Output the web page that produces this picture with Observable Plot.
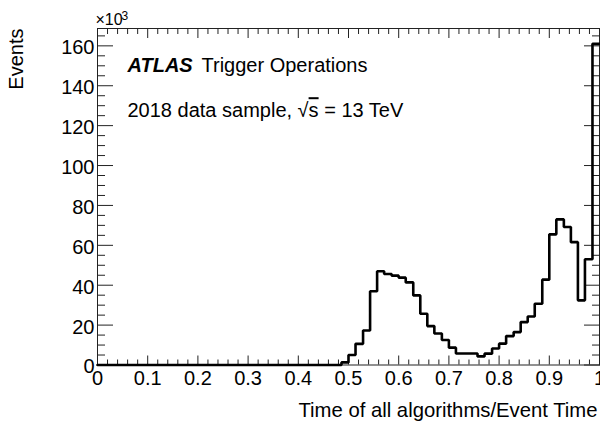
<!DOCTYPE html>
<html>
<head>
<meta charset="utf-8">
<script src="https://cdn.jsdelivr.net/npm/d3@7"></script>
<script src="https://cdn.jsdelivr.net/npm/@observablehq/plot@0.6"></script>
<style>
  html, body { margin: 0; padding: 0; background: #fff; }
  #chart svg { display: block; }
</style>
</head>
<body>
<div id="chart"></div>
<script>
// Histogram bin edges (time fraction) and event counts (x10^3)
const binEdges = [0, 0.486, 0.500, 0.514, 0.529, 0.543, 0.557, 0.571, 0.586, 0.600,
  0.614, 0.629, 0.643, 0.657, 0.671, 0.686, 0.700, 0.714, 0.729, 0.743,
  0.757, 0.771, 0.786, 0.800, 0.814, 0.829, 0.843, 0.857, 0.871, 0.886,
  0.900, 0.914, 0.929, 0.943, 0.957, 0.971, 0.986, 1.000];
const events = [0, 1.3, 5.0, 10.6, 17.3, 37.0, 47.0, 45.6, 44.8, 43.8,
  41.4, 34.9, 25.7, 19.5, 15.8, 12.5, 8.7, 5.8, 5.8, 5.8,
  4.3, 5.7, 8.3, 10.7, 14.5, 16.5, 21.5, 24.3, 30.7, 42.8,
  65.5, 73.0, 69.2, 61.6, 32.4, 53.0, 161.0];

const xMajorTicks = [0, 0.1, 0.2, 0.3, 0.4, 0.5, 0.6, 0.7, 0.8, 0.9, 1.0];
const xTickLabels = ["0", "0.1", "0.2", "0.3", "0.4", "0.5", "0.6", "0.7", "0.8", "0.9", "1"];
const xMinorTicks = [0.02, 0.04, 0.06, 0.08, 0.12, 0.14, 0.16, 0.18, 0.22, 0.24, 0.26, 0.28,
  0.32, 0.34, 0.36, 0.38, 0.42, 0.44, 0.46, 0.48, 0.52, 0.54, 0.56, 0.58,
  0.62, 0.64, 0.66, 0.68, 0.72, 0.74, 0.76, 0.78, 0.82, 0.84, 0.86, 0.88,
  0.92, 0.94, 0.96, 0.98];
const yMajorTicks = [0, 20, 40, 60, 80, 100, 120, 140, 160];
const yTickLabels = ["0", "20", "40", "60", "80", "100", "120", "140", "160"];
const yMinorTicks = [5, 10, 15, 25, 30, 35, 45, 50, 55, 65, 70, 75, 85, 90, 95,
  105, 110, 115, 125, 130, 135, 145, 150, 155, 165];

const xTitle = "Time of all algorithms/Event Time";
const yTitle = "Events";
const expBase = "×10";
const expPower = "3";
const labelBold = "ATLAS";
const labelRest = "Trigger Operations";
const labelLine2 = "2018 data sample, √s = 13 TeV";

const points = binEdges.map((x, i) => ({x, y: events[Math.min(i, events.length - 1)]}));

const font = "'Liberation Sans', Arial, Helvetica, sans-serif";
const axisColor = "#222";
const blank = () => "";

const chart = Plot.plot({
  width: 600,
  height: 429,
  marginTop: 28,
  marginLeft: 97,
  marginRight: 1,
  marginBottom: 64.5,
  x: {domain: [0, 1]},
  y: {domain: [0, 168.7]},
  style: {fontFamily: font, fontSize: "20px", background: "#fff", color: "#000"},
  marks: [
    Plot.frame({stroke: axisColor, strokeWidth: 1}),
    // bottom axis
    Plot.axisX({anchor: "bottom", ticks: xMajorTicks, tickSize: -9, tickFormat: blank, label: null, stroke: axisColor}),
    Plot.axisX({anchor: "bottom", ticks: xMinorTicks, tickSize: -5, tickFormat: blank, label: null, stroke: axisColor}),
    Plot.axisX({anchor: "bottom", ticks: xMajorTicks, tickSize: 0, tickPadding: 6,
      tickFormat: (d, i) => xTickLabels[i], label: null, fontSize: 20, fill: "#000"}),
    // top axis
    Plot.axisX({anchor: "top", ticks: xMajorTicks, tickSize: -9, tickFormat: blank, label: null, stroke: axisColor}),
    Plot.axisX({anchor: "top", ticks: xMinorTicks, tickSize: -5, tickFormat: blank, label: null, stroke: axisColor}),
    // left axis
    Plot.axisY({anchor: "left", ticks: yMajorTicks, tickSize: -16, tickFormat: blank, label: null, stroke: axisColor}),
    Plot.axisY({anchor: "left", ticks: yMinorTicks, tickSize: -8, tickFormat: blank, label: null, stroke: axisColor}),
    Plot.axisY({anchor: "left", ticks: yMajorTicks, tickSize: 0, tickPadding: 3, dy: 2,
      tickFormat: (d, i) => yTickLabels[i], label: null, fontSize: 20, fill: "#000"}),
    // right axis
    Plot.axisY({anchor: "right", ticks: yMajorTicks, tickSize: -16, tickFormat: blank, label: null, stroke: axisColor}),
    Plot.axisY({anchor: "right", ticks: yMinorTicks, tickSize: -8, tickFormat: blank, label: null, stroke: axisColor}),
    // histogram
    Plot.line(points, {x: "x", y: "y", curve: "step-after", stroke: "#000", strokeWidth: 2.6, strokeLinejoin: "miter"}),
    // titles
    Plot.text([yTitle], {frameAnchor: "top-left", text: d => d, rotate: -90, textAnchor: "end",
      lineAnchor: "middle", dx: -81, dy: 0, fontSize: 20, fill: "#000"}),
    Plot.text([xTitle], {frameAnchor: "bottom-right", text: d => d, textAnchor: "end",
      lineAnchor: "bottom", dx: -2, dy: 51.5, fontSize: 20.3, fill: "#000"}),
    Plot.text([expBase], {frameAnchor: "top-left", text: d => d, textAnchor: "start",
      lineAnchor: "bottom", dx: -2, dy: -3.3, fontSize: 16, fill: "#000"}),
    Plot.text([expPower], {frameAnchor: "top-left", text: d => d, textAnchor: "start",
      lineAnchor: "bottom", dx: 24, dy: -8.8, fontSize: 12, fill: "#000"}),
    // ATLAS label
    Plot.text([labelBold], {frameAnchor: "top-left", text: d => d, textAnchor: "start",
      lineAnchor: "bottom", dx: 30, dy: 43.7, fontSize: 20, fontWeight: "bold", fontStyle: "italic", fill: "#000"}),
    Plot.text([labelRest], {frameAnchor: "top-left", text: d => d, textAnchor: "start",
      lineAnchor: "bottom", dx: 104, dy: 43.7, fontSize: 20, fill: "#000"}),
    Plot.text([labelLine2], {frameAnchor: "top-left", text: d => d, textAnchor: "start",
      lineAnchor: "bottom", dx: 30, dy: 88.7, fontSize: 20, fill: "#000"})
  ]
});

document.getElementById("chart").appendChild(chart);

// overline the "s" under the square root
d3.select(chart).selectAll("text").filter(function () {
  return this.textContent === labelLine2;
}).each(function () {
  const t = d3.select(this);
  const [pre, post] = labelLine2.split("√s");
  t.text(null);
  t.append("tspan").text(pre + "√");
  t.append("tspan").text("s").style("text-decoration", "overline");
  t.append("tspan").text(post);
});
</script>
</body>
</html>
